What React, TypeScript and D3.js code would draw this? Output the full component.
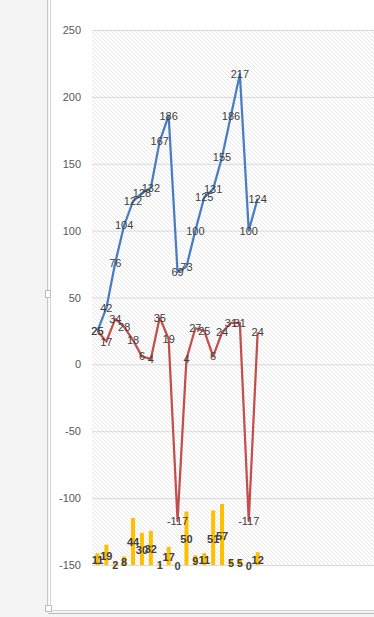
import React from "react";
import * as d3 from "d3";

// values (cumulative line, change line, bar counts)
const categories = d3.range(1, 20).map(String);
const totalValues = [25, 42, 76, 104, 122, 128, 132, 167, 186, 69, 73, 100, 125, 131, 155, 186, 217, 100, 124];
const changeValues = [25, 17, 34, 28, 18, 6, 4, 35, 19, -117, 4, 27, 25, 6, 24, 31, 31, -117, 24];
const barValues = [11, 19, 2, 8, 44, 30, 32, 1, 17, 0, 50, 9, 11, 51, 57, 5, 5, 0, 12];
const yTicks = [250, 200, 150, 100, 50, 0, -50, -100, -150];

const W = 374;
const H = 617;
const plotLeft = 92;
const plotTop = 30;
const plotBottom = 565;
const font = "'Liberation Sans', Arial, sans-serif";

export default function App() {
  const x = d3
    .scaleBand<string>()
    .domain(categories)
    .range([93, 93 + categories.length * 8.9]);
  const cx = (i: number) => (x(categories[i]) as number) + x.bandwidth() / 2;

  const y = d3.scaleLinear().domain([-150, 250]).range([plotBottom, plotTop]);
  // bars sit on a hidden secondary axis
  const y2 = d3.scaleLinear().domain([0, 500]).range([plotBottom, plotTop]);

  const line = d3
    .line<number>()
    .x((_, i) => cx(i))
    .y((d) => y(d));

  const barW = 4;

  return (
    <div style={{ position: "fixed", left: 0, top: 0 }}>
      <svg width={W} height={H} style={{ display: "block" }}>
        <defs>
          <pattern id="hatch" width="4" height="4" patternUnits="userSpaceOnUse">
            <rect width="4" height="4" fill="#fff" />
            <path d="M-1,-1 L5,5 M-1,3 L1,5 M3,-1 L5,1" stroke="#dedede" strokeWidth="0.7" />
          </pattern>
        </defs>

        {/* window background + chart frame */}
        <rect x={0} y={0} width={W} height={H} fill="#f4f4f4" />
        <rect x={49} y={-5} width={W} height={616} fill="#fff" />
        <line x1={47.5} y1={0} x2={47.5} y2={611} stroke="#c8c8c8" />
        <line x1={50.5} y1={0} x2={50.5} y2={611} stroke="#d6d6d6" />
        <line x1={50} y1={610.5} x2={W} y2={610.5} stroke="#d6d6d6" />
        <line x1={48} y1={613.5} x2={W} y2={613.5} stroke="#bdbdbd" />
        <rect x={45.5} y={290.5} width={5} height={7} fill="#fff" stroke="#bdbdbd" />
        <rect x={45.5} y={605.5} width={6} height={6} fill="#fff" stroke="#bdbdbd" />

        {/* plot area */}
        <rect x={plotLeft} y={plotTop} width={W - plotLeft + 10} height={plotBottom - plotTop} fill="url(#hatch)" />
        {yTicks.map((t) => (
          <g key={t}>
            <line x1={plotLeft} x2={W + 10} y1={y(t) + 0.5} y2={y(t) + 0.5} stroke="#d9d9d9" />
            <text
              x={81}
              y={y(t)}
              textAnchor="end"
              dominantBaseline="central"
              fontFamily={font}
              fontSize={11}
              fill="#595959"
            >
              {t}
            </text>
          </g>
        ))}

        {/* bars */}
        {barValues.map((v, i) => (
          <rect
            key={"b" + i}
            x={cx(i) - barW / 2}
            y={y2(v)}
            width={barW}
            height={plotBottom - y2(v)}
            fill="#ffc000"
          />
        ))}

        <path d={line(totalValues) ?? ""} fill="none" stroke="#4a7dbf" strokeWidth={2.25} strokeLinejoin="round" />
        <path d={line(changeValues) ?? ""} fill="none" stroke="#c0504d" strokeWidth={2.25} strokeLinejoin="round" />

        {/* data labels */}
        {totalValues.map((v, i) => (
          <text
            key={"t" + i}
            x={cx(i)}
            y={y(v)}
            textAnchor="middle"
            dominantBaseline="central"
            fontFamily={font}
            fontSize={11}
            fill="#404040"
          >
            {v}
          </text>
        ))}
        {changeValues.map((v, i) => (
          <text
            key={"c" + i}
            x={cx(i)}
            y={y(v)}
            textAnchor="middle"
            dominantBaseline="central"
            fontFamily={font}
            fontSize={11}
            fill="#404040"
          >
            {v}
          </text>
        ))}
        {barValues.map((v, i) => (
          <text
            key={"l" + i}
            x={cx(i)}
            y={(y2(v) + plotBottom) / 2 + 1}
            textAnchor="middle"
            dominantBaseline="central"
            fontFamily={font}
            fontSize={11}
            fontWeight="bold"
            fill="#404040"
          >
            {v}
          </text>
        ))}
      </svg>
    </div>
  );
}
